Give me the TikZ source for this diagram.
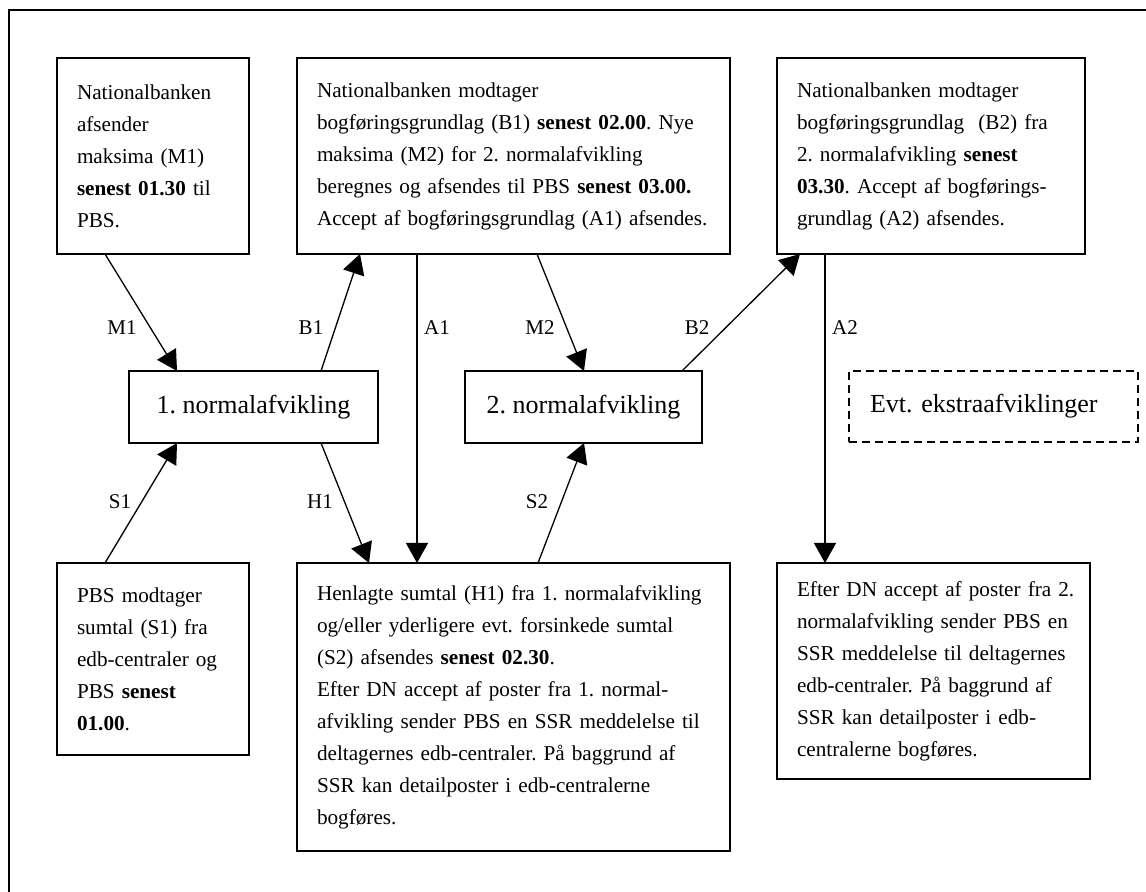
\documentclass[tikz,border=0pt]{standalone}
\usepackage{fontspec}
\setmainfont{Liberation Serif}
\usetikzlibrary{arrows.meta}

\begin{document}
\frenchspacing
\begin{tikzpicture}[x=0.5pt,y=-0.5pt,
  box/.style={draw,line width=1pt,anchor=north west,inner xsep=0pt,inner ysep=0pt,outer sep=0pt,
    align=left,execute at begin node=\setlength{\leftskip}{10pt},font=\fontsize{10.6}{16}\selectfont},
  run/.style={draw,line width=1pt,anchor=north west,outer sep=0pt,minimum height=36pt,font=\fontsize{13}{15}\selectfont},
  lbl/.style={font=\fontsize{10.5}{12}\selectfont},
  flow/.style={line width=0.65pt,-{Triangle[length=10pt,width=11pt]}}]
  \useasboundingbox (0,0) rectangle (1146,892);
  % outer frame (only left and top are inside the page)
  \draw[line width=1pt] (9,892) -- (9,10) -- (1146,10);

  % top row
  \node[box,text width=96pt,minimum width=96pt,minimum height=98pt] (mA) at (57,58)
    {Nationalbanken\\ afsender\\ maksima (M1)\\ \textbf{senest 01.30} til\\ PBS.};
  \node[box,text width=216.5pt,minimum width=216.5pt,minimum height=98pt] (bA) at (297,58)
    {Nationalbanken modtager\\ bogføringsgrundlag (B1) \textbf{senest 02.00}. Nye\\ maksima (M2) for 2. normalafvikling\\ beregnes og afsendes til PBS \textbf{senest 03.00.}\\ Accept af bogføringsgrundlag (A1) afsendes.};
  \node[box,text width=154pt,minimum width=154pt,minimum height=98pt] (bB) at (777,58)
    {Nationalbanken modtager\\ bogføringsgrundlag~ (B2) fra\\ 2. normalafvikling \textbf{senest}\\ \textbf{03.30}. Accept af bogførings-\\ grundlag (A2) afsendes.};

  % middle row
  \node[run,minimum width=124.5pt] (n1) at (129,371) {1. normalafvikling};
  \node[run,minimum width=118.5pt] (n2) at (465,371) {2. normalafvikling};
  \node[run,dash pattern=on 4pt off 2.5pt,line width=0.9pt,minimum height=35.5pt,
        text width=123.5pt,inner xsep=10.5pt,align=left] (ext) at (849,371) {Evt. ekstraafviklinger};

  % bottom row
  \node[box,text width=96pt,minimum width=96pt,minimum height=96pt] (sA) at (57,563)
    {PBS modtager\\ sumtal (S1) fra\\ edb-centraler og\\ PBS \textbf{senest}\\ \textbf{01.00}.};
  \node[box,text width=216.5pt,minimum width=216.5pt,minimum height=144pt] (hA) at (297,563)
    {Henlagte sumtal (H1) fra 1. normalafvikling\\ og/eller yderligere evt. forsinkede sumtal\\ (S2) afsendes \textbf{senest 02.30}.\\ Efter DN accept af poster fra 1. normal-\\ afvikling sender PBS en SSR meddelelse til\\ deltagernes edb-centraler. På baggrund af\\ SSR kan detailposter i edb-centralerne\\ bogføres.};
  \node[box,text width=156.5pt,minimum width=156.5pt,minimum height=108pt] (pB) at (777,563)
    {Efter DN accept af poster fra 2.\\ normalafvikling sender PBS en\\ SSR meddelelse til deltagernes\\ edb-centraler. På baggrund af\\ SSR kan detailposter i edb-\\ centralerne bogføres.};

  % flows
  \draw[flow] ([xshift=24pt]mA.south west) -- ([xshift=24pt]n1.north west);
  \draw[flow] ([xshift=-28.5pt]n1.north east) -- ([xshift=31.5pt]bA.south west);
  \draw[flow] ([xshift=60pt]bA.south west) -- ([xshift=60pt]hA.north west);
  \draw[flow] ([xshift=120pt]bA.south west) -- ([xshift=59.5pt]n2.north west);
  \draw[flow] ([xshift=108.5pt]n2.north west) -- ([xshift=11.5pt]bB.south west);
  \draw[flow] ([xshift=24pt]bB.south west) -- ([xshift=24pt]pB.north west);
  \draw[flow] ([xshift=24pt]sA.north west) -- ([xshift=24pt]n1.south west);
  \draw[flow] ([xshift=-28.5pt]n1.south east) -- ([xshift=36pt]hA.north west);
  \draw[flow] ([xshift=120.5pt]hA.north west) -- ([xshift=59.5pt]n2.south west);

  % flow labels
  \node[lbl] (lM1) at (122,328) {M1};
  \node[lbl] (lB1) at (311,328) {B1};
  \node[lbl] (lA1) at (437,328) {A1};
  \node[lbl] (lM2) at (540,328) {M2};
  \node[lbl] (lB2) at (697,328) {B2};
  \node[lbl] (lA2) at (845,328) {A2};
  \node[lbl] (lS1) at (120,502) {S1};
  \node[lbl] (lH1) at (320,502) {H1};
  \node[lbl] (lS2) at (537,502) {S2};
\end{tikzpicture}
\end{document}
